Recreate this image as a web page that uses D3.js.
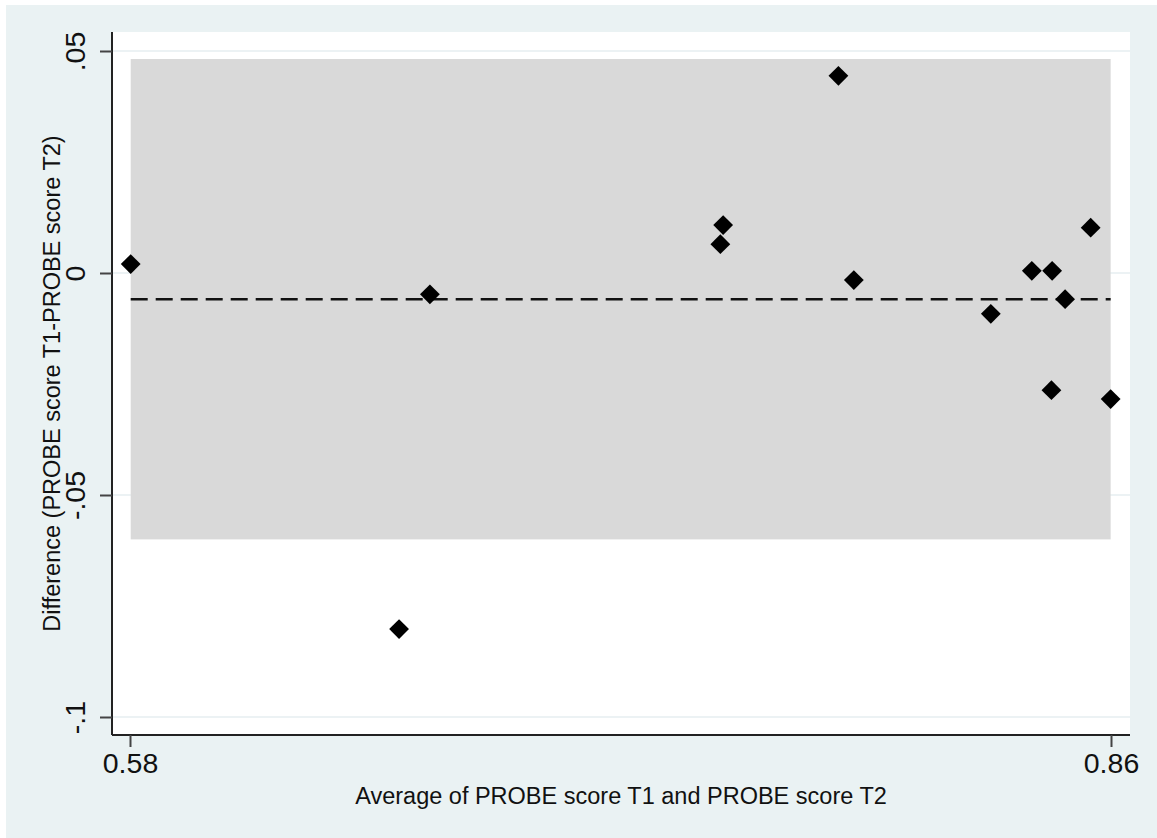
<!DOCTYPE html>
<html>
<head>
<meta charset="utf-8">
<script src="https://cdn.jsdelivr.net/npm/d3@7"></script>
<style>
  html, body { margin: 0; padding: 0; background: #ffffff; }
  svg { display: block; font-family: "Liberation Sans", Arial, sans-serif; }
</style>
</head>
<body>
<svg id="chart" width="1157" height="838"></svg>
<script>
// ---- data ----
const avgScores  = [0.5802, 0.6568, 0.6656, 0.7493, 0.7485, 0.7822, 0.7866, 0.8257, 0.8374, 0.8432, 0.8469, 0.8542, 0.8430, 0.8599];
const diffScores = [0.0020, -0.0802, -0.0048, 0.0108, 0.0065, 0.0444, -0.0016, -0.0092, 0.0005, 0.0005, -0.0059, 0.0102, -0.0264, -0.0284];
const meanDiff = -0.0059;
const limitsOfAgreement = [-0.0600, 0.0482];
const yTicks = [-0.1, -0.05, 0, 0.05];
const yTickLabels = ["-.1", "-.05", "0", ".05"];
const xTicks = [0.58, 0.86];
const xTickLabels = ["0.58", "0.86"];
const xTitle = "Average of PROBE score T1 and PROBE score T2";
const yTitle = "Difference (PROBE score T1-PROBE score T2)";

// ---- layout ----
const svg = d3.select("#chart");
const plot = { left: 112, right: 1130, top: 32, bottom: 735 };

svg.append("rect").attr("x", 6).attr("y", 5).attr("width", 1151).attr("height", 833)
  .attr("fill", "#eaf2f3");
svg.append("rect").attr("x", plot.left).attr("y", plot.top)
  .attr("width", plot.right - plot.left).attr("height", plot.bottom - plot.top)
  .attr("fill", "#ffffff");

const x = d3.scaleLinear().domain([0.58, 0.86]).range([130, 1111]);
const y = d3.scaleLinear().domain([-0.1, 0.05]).range([717, 51]);

// gridlines
svg.append("g").selectAll("line").data(yTicks).join("line")
  .attr("x1", plot.left).attr("x2", plot.right)
  .attr("y1", d => y(d)).attr("y2", d => y(d))
  .attr("stroke", "#e6eef0").attr("stroke-width", 1.5);

// limits of agreement band
const xExt = d3.extent(avgScores);
svg.append("rect")
  .attr("x", x(xExt[0])).attr("width", x(xExt[1]) - x(xExt[0]))
  .attr("y", y(limitsOfAgreement[1]))
  .attr("height", y(limitsOfAgreement[0]) - y(limitsOfAgreement[1]))
  .attr("fill", "#d9d9d9");

// mean difference line
svg.append("line")
  .attr("x1", x(xExt[0])).attr("x2", x(xExt[1]))
  .attr("y1", y(meanDiff)).attr("y2", y(meanDiff))
  .attr("stroke", "#111").attr("stroke-width", 2.4)
  .attr("stroke-dasharray", "17,8");

// points
const diamond = d3.symbol().type(d3.symbolDiamond2 || d3.symbolDiamond).size(250);
svg.append("g").selectAll("path").data(avgScores.map((a, i) => [a, diffScores[i]])).join("path")
  .attr("d", diamond)
  .attr("transform", d => `translate(${x(d[0])},${y(d[1])})`)
  .attr("fill", "#000");

// y axis
const yAxis = d3.axisLeft(y).tickValues(yTicks).tickFormat((d, i) => yTickLabels[i])
  .tickSize(12).tickSizeOuter(0);
const gy = svg.append("g").attr("transform", `translate(${plot.left},0)`).call(yAxis);
gy.select(".domain").attr("d", `M0,${plot.top}V${plot.bottom}`).attr("stroke", "#222").attr("stroke-width", 2);
gy.selectAll(".tick line").attr("stroke", "#444").attr("stroke-width", 2);
gy.selectAll(".tick text")
  .attr("font-size", 28.5).attr("fill", "#111")
  .attr("text-anchor", "middle")
  .attr("transform", "rotate(-90)")
  .attr("dy", null)
  .attr("x", 0).attr("y", -27);

// x axis
const xAxis = d3.axisBottom(x).tickValues(xTicks).tickFormat((d, i) => xTickLabels[i])
  .tickSize(12).tickSizeOuter(0);
const gx = svg.append("g").attr("transform", `translate(0,${plot.bottom})`).call(xAxis);
gx.select(".domain").attr("d", `M${plot.left},0H${plot.right}`).attr("stroke", "#222").attr("stroke-width", 2);
gx.selectAll(".tick line").attr("stroke", "#444").attr("stroke-width", 2);
gx.selectAll(".tick text")
  .attr("font-size", 28.5).attr("fill", "#111")
  .attr("y", 38).attr("dy", null);

// titles
svg.append("text")
  .attr("x", (plot.left + plot.right) / 2).attr("y", 804)
  .attr("text-anchor", "middle").attr("font-size", 23.5).attr("fill", "#111")
  .text(xTitle);
svg.append("text")
  .attr("transform", `translate(60,${(plot.top + plot.bottom) / 2}) rotate(-90)`)
  .attr("text-anchor", "middle").attr("font-size", 23.5).attr("fill", "#111")
  .text(yTitle);
</script>
</body>
</html>
